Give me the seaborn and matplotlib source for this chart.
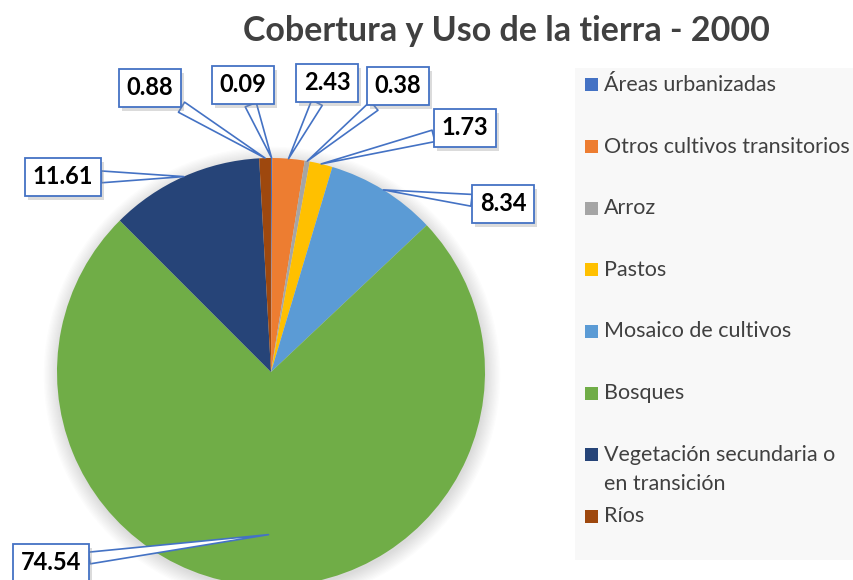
import matplotlib
matplotlib.use("Agg")
import matplotlib.pyplot as plt
import matplotlib.patheffects as pe
from matplotlib.patches import Rectangle, Circle
import numpy as np
import seaborn as sns

# datos
categorias = ["Áreas urbanizadas", "Otros cultivos transitorios", "Arroz", "Pastos",
              "Mosaico de cultivos", "Bosques", "Vegetación secundaria o\nen transición", "Ríos"]
porcentajes = [0.09, 2.43, 0.38, 1.73, 8.34, 74.54, 11.61, 0.88]
colores = ["#4472C4", "#ED7D31", "#A5A5A5", "#FFC000",
           "#5B9BD5", "#70AD47", "#264478", "#9E480E"]
titulo = "Cobertura y Uso de la tierra - 2000"

sns.set_theme(style="white")
plt.rcParams["font.family"] = ["Lato", "DejaVu Sans"]

W, H = 854, 580
fig = plt.figure(figsize=(W / 100, H / 100), dpi=100)
ax = fig.add_axes([0, 0, 1, 1])

cx, cy, r = 271, H - 372, 214

# sombra suave del pastel
for i in range(12):
    ax.add_patch(Circle((cx + 1, cy - 3), r + i * 1.3, color="black", alpha=0.011, lw=0))

wedges, _ = ax.pie(porcentajes, colors=colores, startangle=90, counterclock=False,
                   center=(cx, cy), radius=r, frame=True, wedgeprops=dict(linewidth=0))

ax.set_xlim(0, W)
ax.set_ylim(0, H)
ax.set_aspect("equal")
ax.axis("off")

# posiciones de las etiquetas (px, y hacia abajo)
pos_etiquetas = [(243, 85), (327, 83), (398, 86), (465, 128),
                 (503, 204), (51, 563), (63, 177), (150, 88)]
radio_punta = [1.0, 1.0, 1.0, 1.0, 1.0, 0.76, 1.0, 1.0]

azul = "#4472C4"
for w, v, (lx, ly), k in zip(wedges, porcentajes, pos_etiquetas, radio_punta):
    ang = np.deg2rad((w.theta1 + w.theta2) / 2)
    tip = (cx + k * r * np.cos(ang), cy + k * r * np.sin(ang))
    ann = ax.annotate(f"{v:.2f}", xy=tip, xytext=(lx, H - ly), ha="center", va="center",
                      fontsize=17, fontweight="bold", color="black",
                      bbox=dict(boxstyle="square,pad=0.32", fc="white", ec=azul, lw=1.3),
                      arrowprops=dict(arrowstyle="wedge,tail_width=0.5,shrink_factor=0.5",
                                      fc="white", ec=azul, lw=1.2, shrinkA=0, shrinkB=0))
    ann.get_bbox_patch().set_path_effects(
        [pe.withSimplePatchShadow(offset=(2, -3), shadow_rgbFace="0.6", alpha=0.35)])

# titulo
ax.text(506, H - 31, titulo, ha="center", va="center", fontsize=24.5,
        fontweight="bold", color="#404040")

# leyenda
ax.add_patch(Rectangle((575, H - 560), W - 575, 492, color="#F8F8F8", lw=0, zorder=0))
for i, (cat, col) in enumerate(zip(categorias, colores)):
    y = H - (85 + 61.6 * i)
    ax.add_patch(Rectangle((585, y - 6.5), 13, 13, color=col, lw=0))
    ax.text(604, y + 10, cat, ha="left", va="top", fontsize=15.5, color="#404040",
            linespacing=1.6)

fig.savefig("out.png", dpi=100)
